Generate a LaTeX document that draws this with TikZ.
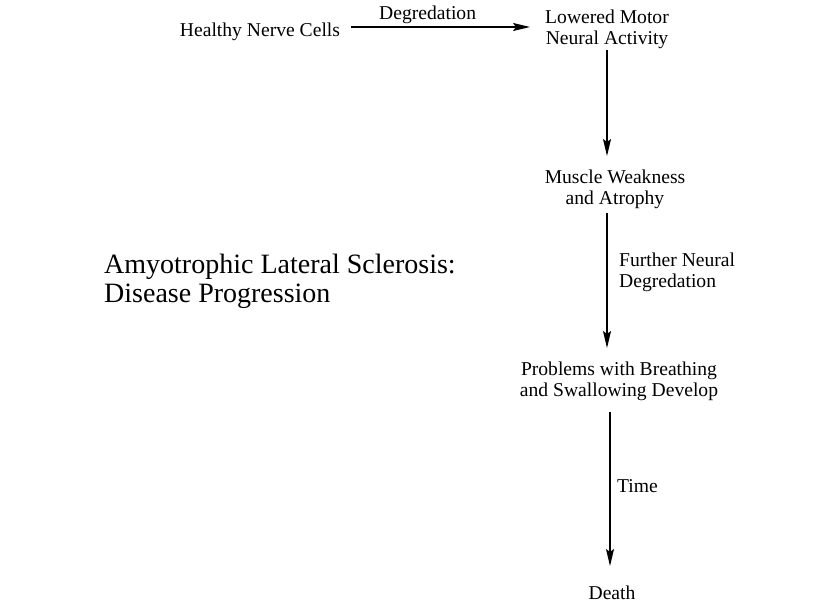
\documentclass[tikz,border=0pt]{standalone}
\usepackage{fontspec}
\setmainfont{Liberation Serif}
\usetikzlibrary{arrows.meta}
\begin{document}
\begin{tikzpicture}[x=1pt,y=-1pt,
  txt/.style={inner sep=0pt,align=center,font=\fontsize{19.6}{21}\selectfont},
  lbl/.style={inner sep=0pt,align=left,font=\fontsize{19.6}{21}\selectfont},
  arr/.style={line width=1.4pt,-{Stealth[length=17pt,width=8pt,inset=3pt]}}]
\useasboundingbox[fill=white] (0,0) rectangle (840,606);
\node[txt] (healthy) at (260,32) {Healthy Nerve Cells};
\node[txt] (lowered) at (607,29) {Lowered Motor\\Neural Activity};
\node[txt] (muscle) at (615,189) {Muscle Weakness\\and Atrophy};
\node[txt] (problems) at (619,381) {Problems with Breathing\\and Swallowing Develop};
\node[txt] (death) at (612,593) {Death};
\node[inner sep=0pt,anchor=west,align=left,font=\fontsize{28}{29}\selectfont] (title) at (104,281) {Amyotrophic Lateral Sclerosis:\\Disease Progression};
\draw[arr] ([xshift=11pt,yshift=5pt]healthy.east) -- ([xshift=-15pt,yshift=2pt]lowered.west) node[midway,above=3pt,xshift=-13pt,txt] (l1) {Degredation};
\coordinate (a2s) at (607,50);
\coordinate (a2e) at (607,156);
\draw[arr] (a2s) -- (a2e);
\coordinate (a3s) at (607,213);
\coordinate (a3e) at (607,348);
\draw[arr] (a3s) -- (a3e);
\node[lbl,anchor=west] (l3) at (619,272) {Further Neural\\Degredation};
\coordinate (a4s) at (610,412);
\coordinate (a4e) at (610,566);
\draw[arr] (a4s) -- (a4e);
\node[lbl,anchor=west] (l4) at (617,486) {Time};
\end{tikzpicture}
\end{document}
